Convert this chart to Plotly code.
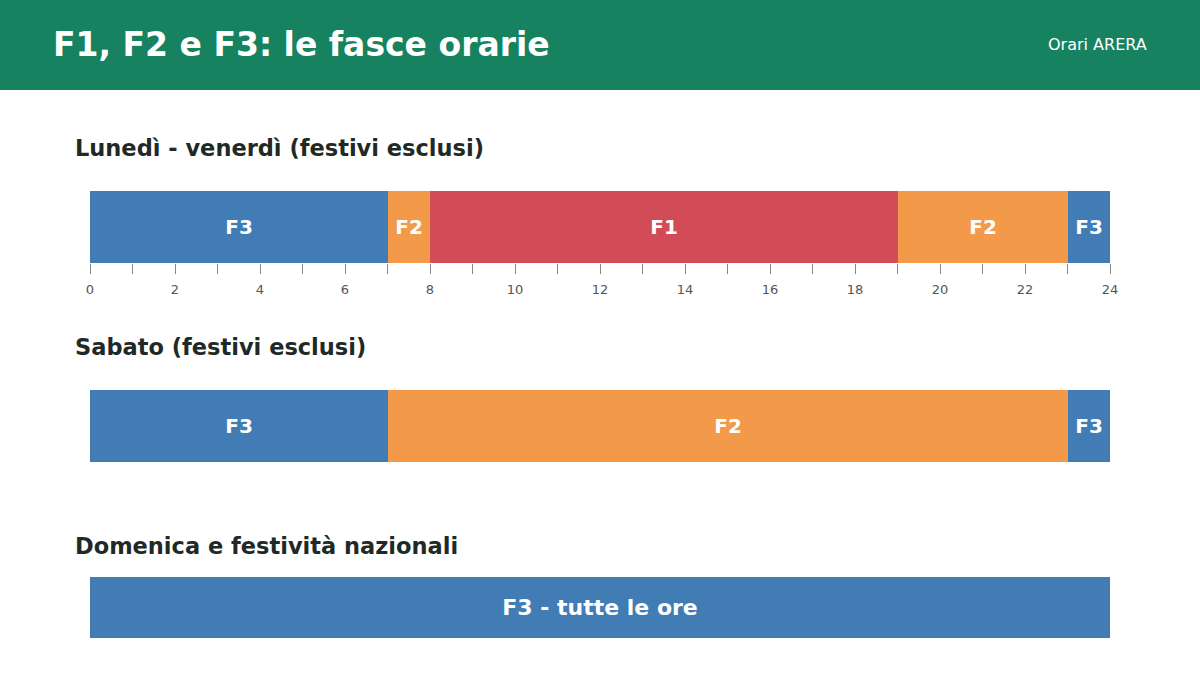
import plotly.graph_objects as go
from plotly.subplots import make_subplots

# fasce orarie ARERA (ore di inizio e durata)
feriali_fascia = ["F3", "F2", "F1", "F2", "F3"]
feriali_inizio = [0, 7, 8, 19, 23]
feriali_durata = [7, 1, 11, 4, 1]

sabato_fascia = ["F3", "F2", "F3"]
sabato_inizio = [0, 7, 23]
sabato_durata = [7, 16, 1]

domenica_fascia = ["F3 - tutte le ore"]
domenica_inizio = [0]
domenica_durata = [24]

titoli = ["Lunedì - venerdì (festivi esclusi)", "Sabato (festivi esclusi)", "Domenica e festività nazionali"]

colori = {"F1": "#d24c58", "F2": "#f2994a", "F3": "#427cb5"}
verde = "#168260"
W, H = 1200, 675
FONT = "DejaVu Sans"


def col(f):
    return colori[f.split(" ")[0]]


fig = make_subplots(rows=3, cols=1)

righe = [
    (feriali_fascia, feriali_inizio, feriali_durata),
    (sabato_fascia, sabato_inizio, sabato_durata),
    (domenica_fascia, domenica_inizio, domenica_durata),
]
# posizioni verticali in pixel (top, bottom) delle barre e dei titoli
barre_px = [(191, 263), (390, 462), (577, 638)]
titoli_px = [148, 347, 546]
label_size = [20, 20, 22]

for i, (fasce, inizio, durata) in enumerate(righe):
    fig.add_trace(go.Bar(
        y=["r"] * len(fasce), x=durata, base=inizio, orientation="h",
        text=fasce, textposition="inside", insidetextanchor="middle",
        constraintext="none",
        textfont=dict(family=FONT, size=label_size[i], color="white", weight="bold"),
        marker=dict(color=[col(f) for f in fasce], line=dict(width=0)),
        hoverinfo="skip", showlegend=False,
    ), row=i + 1, col=1)

    top, bot = barre_px[i]
    yname = "yaxis" if i == 0 else "yaxis%d" % (i + 1)
    xname = "xaxis" if i == 0 else "xaxis%d" % (i + 1)
    fig.layout[yname].update(domain=[1 - bot / H, 1 - top / H], showticklabels=False,
                             showgrid=False, zeroline=False, fixedrange=True, automargin=False)
    fig.layout[xname].update(domain=[90 / W, 1110 / W], range=[0, 24], showgrid=False,
                             zeroline=False, showline=False, fixedrange=True, automargin=False)
    if i == 0:
        fig.layout[xname].update(
            tickmode="linear", tick0=0, dtick=2, ticks="outside", ticklen=10,
            tickcolor="#888888", tickwidth=1, ticklabelstandoff=4,
            tickfont=dict(family=FONT, size=13, color="#555555"),
            minor=dict(dtick=1, ticks="outside", ticklen=10, tickcolor="#888888", tickwidth=1),
        )
    else:
        fig.layout[xname].update(showticklabels=False, ticks="")

    fig.add_annotation(text=titoli[i], xref="paper", yref="paper", x=73 / W, y=1 - titoli_px[i] / H,
                       xanchor="left", yanchor="middle", showarrow=False,
                       font=dict(family=FONT, size=22.5, color="#1f2a27", weight="bold"))

# banda d'intestazione
fig.add_shape(type="rect", xref="paper", yref="paper", x0=-0.01, x1=1.01, y0=1 - 90 / H, y1=1.01,
              fillcolor=verde, line=dict(width=0), layer="below")
fig.add_annotation(text="F1, F2 e F3: le fasce orarie", xref="paper", yref="paper",
                   x=51 / W, y=1 - 44 / H, xanchor="left", yanchor="middle", showarrow=False,
                   font=dict(family=FONT, size=33, color="white", weight="bold"))
fig.add_annotation(text="Orari ARERA", xref="paper", yref="paper",
                   x=1149 / W, y=1 - 45 / H, xanchor="right", yanchor="middle", showarrow=False,
                   font=dict(family=FONT, size=16, color="white"))

fig.update_layout(
    autosize=True, margin=dict(l=0, r=0, t=0, b=0, pad=0, autoexpand=False),
    paper_bgcolor="white", plot_bgcolor="white",
    barmode="overlay", bargap=0,
    font=dict(family=FONT),
)

fig.write_html(
    "out.html",
    default_width="100vw", default_height="100vh",
    config={"displayModeBar": False, "responsive": True},
    post_script="document.body.style.margin='0';document.documentElement.style.overflow='hidden';",
)
